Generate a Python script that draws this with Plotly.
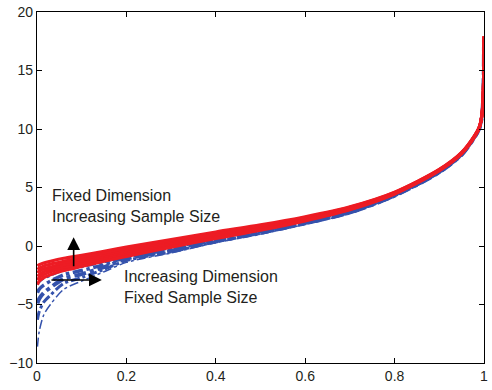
import plotly.graph_objects as go

# sample positions (x) shared by every curve
x_pts = [0.001, 0.005, 0.015, 0.03, 0.06, 0.1, 0.15, 0.2, 0.3, 0.4, 0.5,
         0.6, 0.7, 0.8, 0.9, 0.95, 0.98, 0.99, 0.996, 0.999, 1.0]

# red: fixed dimension, increasing sample size (solid)
red_curves = [
    [-1.7, -1.6, -1.45, -1.3, -1.05, -0.8, -0.45, -0.1, 0.55, 1.2, 1.8,
     2.5, 3.35, 4.6, 6.55, 8.0, 9.5, 10.2, 11.4, 13.8, 17.9],
    [-2.0, -1.9, -1.7, -1.55, -1.3, -1.0, -0.65, -0.3, 0.4, 1.05, 1.7,
     2.42, 3.3, 4.57, 6.52, 7.98, 9.48, 10.2, 11.4, 13.8, 17.9],
    [-2.3, -2.15, -1.95, -1.8, -1.5, -1.2, -0.85, -0.45, 0.25, 0.95, 1.6,
     2.35, 3.25, 4.54, 6.5, 7.96, 9.46, 10.2, 11.4, 13.8, 17.9],
    [-2.6, -2.45, -2.2, -2.0, -1.7, -1.4, -1.0, -0.6, 0.15, 0.85, 1.5,
     2.28, 3.2, 4.5, 6.48, 7.94, 9.44, 10.2, 11.4, 13.8, 17.9],
    [-2.9, -2.7, -2.45, -2.2, -1.9, -1.55, -1.15, -0.75, 0.0, 0.75, 1.45,
     2.22, 3.15, 4.47, 6.46, 7.92, 9.42, 10.2, 11.4, 13.8, 17.9],
    [-3.3, -3.0, -2.7, -2.45, -2.1, -1.75, -1.3, -0.9, -0.1, 0.65, 1.35,
     2.15, 3.1, 4.45, 6.44, 7.9, 9.4, 10.2, 11.4, 13.8, 17.9],
]

# blue: increasing dimension, fixed sample size (dash-dot)
blue_curves = [
    [-3.3, -3.1, -2.8, -2.55, -2.1, -1.8, -1.4, -0.8, -0.2, 0.6, 1.3,
     2.05, 2.95, 4.35, 6.35, 7.85, 9.4, 10.1, 11.3, 13.7, 17.8],
    [-4.0, -3.7, -3.35, -3.0, -2.45, -2.1, -1.6, -0.95, -0.3, 0.5, 1.22,
     2.0, 2.9, 4.33, 6.33, 7.83, 9.38, 10.1, 11.3, 13.7, 17.8],
    [-4.9, -4.5, -4.0, -3.55, -2.8, -2.4, -1.8, -1.1, -0.4, 0.42, 1.15,
     1.95, 2.87, 4.3, 6.3, 7.8, 9.36, 10.1, 11.3, 13.7, 17.8],
    [-6.3, -5.6, -4.8, -4.2, -3.2, -2.7, -2.0, -1.25, -0.5, 0.35, 1.08,
     1.9, 2.83, 4.28, 6.28, 7.78, 9.34, 10.1, 11.3, 13.7, 17.8],
    [-8.6, -7.3, -5.9, -5.0, -3.7, -3.0, -2.2, -1.4, -0.6, 0.28, 1.0,
     1.85, 2.8, 4.25, 6.25, 7.75, 9.32, 10.1, 11.3, 13.7, 17.8],
]
blue_widths = [2, 3.5, 4, 3, 1.5]

RED = "rgb(237,28,36)"
BLUE = "rgb(52,82,172)"

fig = go.Figure()
for ys, w in zip(blue_curves, blue_widths):
    fig.add_trace(go.Scatter(x=x_pts, y=ys, mode="lines",
                             line=dict(color=BLUE, width=w, dash="dashdot",
                                       shape="spline", smoothing=0.8),
                             showlegend=False, hoverinfo="skip"))
for ys in red_curves:
    fig.add_trace(go.Scatter(x=x_pts, y=ys, mode="lines",
                             line=dict(color=RED, width=3.2,
                                       shape="spline", smoothing=0.8),
                             showlegend=False, hoverinfo="skip"))

FONT = "Liberation Sans, Arial, Helvetica, sans-serif"
TXT = "#231F20"
fig.add_annotation(x=0.03, y=3.45, xref="x", yref="y",
                   text="Fixed Dimension<br>Increasing Sample Size",
                   showarrow=False, xanchor="left", yanchor="middle",
                   align="left", font=dict(family=FONT, size=16, color=TXT))
fig.add_annotation(x=0.19, y=-3.5, xref="x", yref="y",
                   text="Increasing Dimension<br>Fixed Sample Size",
                   showarrow=False, xanchor="left", yanchor="middle",
                   align="left", font=dict(family=FONT, size=16, color=TXT))
# arrows
fig.add_annotation(x=0.082, y=0.75, ax=0.082, ay=-1.85, xref="x", yref="y",
                   axref="x", ayref="y", text="", showarrow=True,
                   arrowhead=2, arrowsize=1.6, arrowwidth=1.6, arrowcolor="black")
fig.add_annotation(x=0.145, y=-2.9, ax=0.029, ay=-2.9, xref="x", yref="y",
                   axref="x", ayref="y", text="", showarrow=True,
                   arrowhead=2, arrowsize=1.6, arrowwidth=1.6, arrowcolor="black")

axis_common = dict(showgrid=False, zeroline=False, showline=True,
                   linecolor="black", linewidth=1.2, mirror="ticks",
                   ticks="inside", ticklen=5, tickcolor="black",
                   tickfont=dict(family=FONT, size=14, color=TXT))
fig.update_xaxes(range=[0, 1], tickvals=[0, 0.2, 0.4, 0.6, 0.8, 1],
                 ticktext=["0", "0.2", "0.4", "0.6", "0.8", "1"], **axis_common)
fig.update_yaxes(range=[-10, 20], tickvals=[-10, -5, 0, 5, 10, 15, 20], **axis_common)

fig.update_layout(width=492, height=390, plot_bgcolor="white",
                  paper_bgcolor="white",
                  margin=dict(l=37, r=4, t=9, b=27))
fig.write_html("out.html")
